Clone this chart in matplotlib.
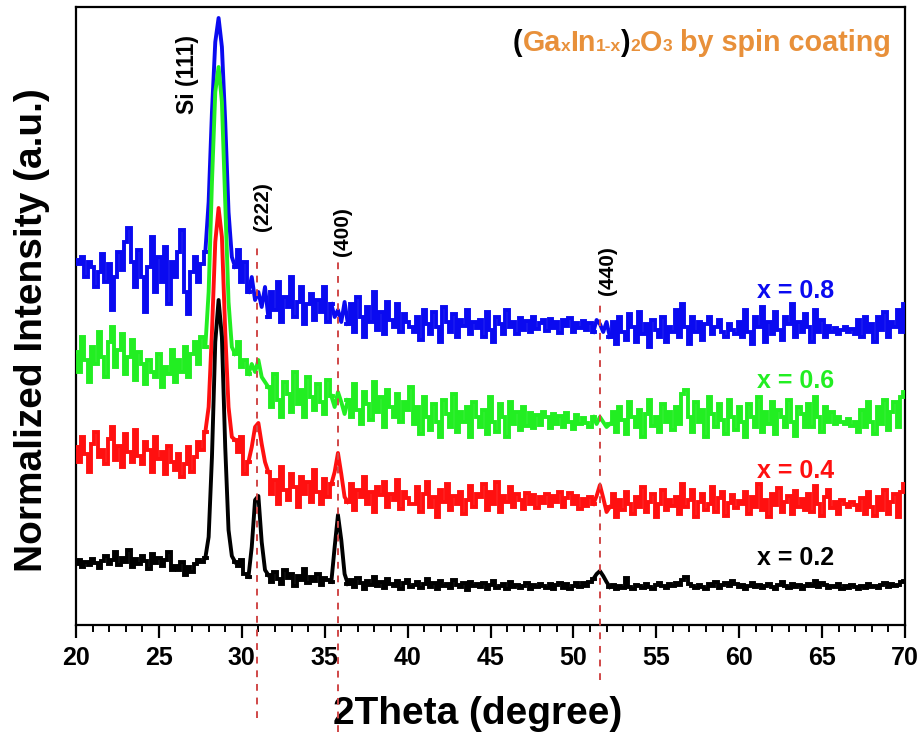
import numpy as np
import matplotlib
matplotlib.use("Agg")
import matplotlib.pyplot as plt
from matplotlib.ticker import MultipleLocator, NullLocator
from matplotlib.offsetbox import TextArea, HPacker, AnchoredOffsetbox

plt.rcParams['font.family'] = ['Liberation Sans', 'DejaVu Sans']

# ---------------- data (2theta grid 20..70, step 0.2) ----------------
two_theta = np.linspace(20, 70, 251)

x02 = [  # black, x = 0.2
    58, 62, 55, 60, 57, 63, 59, 54, 61, 66, 58, 62, 70, 57, 64, 60, 72, 55, 63, 58,
    66, 61, 53, 68, 59, 64, 56, 62, 70, 52, 56, 52, 60, 47, 55, 50, 58, 62, 60, 64,
    85, 165, 280, 322, 285, 175, 92, 66,
    60, 56, 62, 48, 45,
    75, 122, 126, 80, 52,
    47, 40, 50, 43, 38, 52, 44, 48, 36, 46, 42, 53, 39, 45, 41, 48, 37, 44, 42, 40,
    75, 107, 82, 48,
    38, 42, 35, 44, 39, 33, 41, 37, 45, 36, 40, 34, 43, 38, 36, 41, 33, 39, 42, 35,
    37, 40, 34, 38, 43, 35, 39, 33, 41, 36, 38, 34, 42, 37, 35, 39, 32, 40, 36, 38,
    35, 39, 33, 37, 41, 34, 36, 38, 33, 40, 35, 37, 34, 36, 39, 33, 37, 35, 38, 36,
    34, 38, 33, 37, 39, 34, 38, 33, 36, 39, 35, 39,
    36, 40, 43, 48,
    51, 46, 40,
    35, 37, 33, 36, 34, 44, 35, 33, 37, 36, 34, 38, 35, 33, 37, 39, 36, 34, 38, 36,
    39, 37, 42, 45, 38, 36, 34, 37, 35, 33, 38, 36, 40, 34, 37, 39, 36, 41, 38, 35,
    37, 33, 36, 39, 35, 37, 34, 36, 38, 35, 33, 37, 40, 36, 34, 38, 35, 37, 33, 36,
    38, 36, 41, 35, 39, 37, 34, 36, 35, 38, 33, 36, 34, 37, 35, 33, 36, 34, 38, 35,
    36, 34, 37, 39, 35, 38, 36, 37, 40, 41,
]

x04 = [  # red, x = 0.4
    175, 160, 185, 168, 150, 178, 190, 165, 172, 158, 183, 195, 162, 176, 155, 188, 170, 160, 192, 166,
    158, 180, 172, 150, 185, 163, 170, 148, 176, 160, 152, 168, 145, 158, 175, 150, 165, 180, 172, 190,
    215, 290, 380, 414, 385, 290, 215, 185,
    182, 170, 185, 148, 160,
    175, 195, 199, 178, 160,
    150, 128, 142, 118, 155, 132, 122, 148, 135, 115, 145, 128, 140, 120, 152, 130, 118, 143, 125, 138,
    150, 169, 148, 125,
    120, 138, 112, 132, 125, 145, 118, 130, 110, 135, 127, 140, 115, 128, 122, 142, 113, 130, 124, 118,
    118, 135, 110, 128, 140, 115, 125, 105, 132, 120, 138, 112, 126, 118, 130, 108, 122, 136, 115, 128,
    125, 138, 112, 130, 118, 140, 110, 126, 120, 135, 115, 128, 122, 113, 129, 118, 127, 114, 125, 119,
    128, 116, 126, 120, 130, 115, 124, 129, 118, 126, 113, 123,
    116, 125, 118, 126,
    137, 124, 110,
    115, 128, 105, 122, 112, 130, 118, 108, 125, 115, 135, 110, 120, 128, 105, 118, 132, 112, 122, 116,
    125, 108, 138, 115, 122, 132, 105, 120, 128, 112, 118, 135, 110, 124, 130, 106, 119, 127, 114, 121,
    118, 130, 108, 125, 115, 138, 112, 122, 105, 128, 117, 134, 110, 120, 126, 108, 131, 115, 123, 112,
    128, 110, 136, 118, 106, 125, 132, 114, 120, 108, 122, 118, 115, 120, 117, 112, 124, 108, 130, 115,
    106, 125, 112, 132, 108, 120, 128, 105, 130, 138,
]

x06 = [  # green, x = 0.6
    270, 250, 285, 262, 240, 275, 258, 290, 265, 245, 280, 295, 255, 272, 288, 248, 265, 282, 242, 270,
    258, 238, 262, 250, 245, 268, 235, 255, 248, 272, 240, 262, 250, 275, 245, 268, 280, 258, 285, 275,
    330, 440, 530, 555, 520, 420, 320, 275,
    268, 280, 255, 262, 248,
    258, 250, 262, 245, 240,
    235, 215, 248, 222, 205, 240, 228, 210, 250, 218, 232, 205, 245, 225, 212, 238, 220, 208, 242, 226,
    215, 230, 220, 208,
    222, 205, 238, 212, 198, 230, 218, 202, 240, 210, 225, 195, 232, 215, 205, 228, 200, 220, 212, 235,
    198, 215, 188, 225, 205, 192, 218, 200, 185, 222, 208, 195, 228, 190, 210, 200, 215, 185, 220, 205,
    195, 212, 188, 225, 200, 190, 218, 205, 185, 220, 198, 210, 192, 215, 196, 209, 194, 207, 197, 210,
    205, 194, 208, 198, 206, 195, 209, 200, 193, 207, 198, 204,
    199, 195, 205, 198,
    205, 200, 195,
    198, 210, 190, 215, 202, 188, 220, 205, 195, 212, 185, 208, 222, 196, 205, 190, 218, 200, 210, 192,
    215, 198, 228, 232, 205, 190, 220, 200, 212, 185, 225, 208, 195, 218, 202, 188, 222, 205, 192, 215,
    200, 185, 218, 205, 195, 225, 190, 210, 198, 220, 188, 212, 205, 195, 222, 200, 186, 215, 208, 195,
    218, 195, 225, 205, 190, 215, 200, 210, 198, 205, 200, 198, 203, 196, 200, 190, 212, 195, 220, 200,
    188, 215, 198, 222, 192, 210, 220, 195, 225, 230,
]

x08 = [  # blue, x = 0.8
    362, 358, 365, 345, 360, 355, 335, 350, 368, 340, 358, 312, 345, 370, 352, 380, 394, 360, 335, 372,
    345, 310, 355, 385, 330, 365, 340, 375, 318, 360, 345, 370, 392, 330, 308, 350, 365, 340, 358, 370,
    420, 510, 580, 604, 575, 500, 410, 365,
    355, 372, 340, 360, 330,
    345, 322, 330, 315, 335,
    305, 330, 312, 340, 300, 325, 315, 345, 305, 320, 335, 298, 318, 328, 302, 322, 310, 335, 300, 318,
    305, 312, 300, 320,
    298, 318, 290, 325, 305, 285, 315, 300, 330, 292, 310, 288, 320, 302, 295, 318, 290, 308, 300, 295,
    290, 305, 282, 312, 298, 288, 310, 295, 280, 315, 300, 290, 308, 285, 302, 296, 312, 288, 300, 294,
    302, 285, 310, 292, 280, 305, 298, 288, 312, 295, 300, 288, 304, 292, 301, 290, 305, 293, 299, 302,
    291, 303, 294, 300, 289, 302, 296, 304, 290, 299, 294, 301,
    292, 299, 290, 302,
    298, 290, 300,
    285, 300, 278, 305, 290, 282, 308, 295, 280, 310, 288, 298, 275, 302, 292, 285, 305, 280, 295, 290,
    312, 285, 318, 295, 278, 305, 290, 300, 282, 298, 305, 288, 295, 302, 290, 285, 298, 292, 288, 300,
    285, 312, 290, 278, 305, 295, 315, 280, 300, 288, 310, 292, 282, 305, 298, 318, 285, 300, 290, 308,
    295, 280, 312, 290, 302, 285, 296, 290, 294, 288, 292, 295, 290, 293, 288, 302, 285, 305, 290, 298,
    280, 305, 292, 310, 285, 300, 295, 312, 290, 318,
]

series_labels = ["x = 0.8", "x = 0.6", "x = 0.4", "x = 0.2"]
series_colors = ["#0a0af0", "#22ee22", "#ff1010", "#000000"]
label_baselines = [324, 234, 144, 57]

peak_names = ["(222)", "(400)", "(440)"]
peak_positions = [30.9, 35.8, 51.6]

for s in (x02, x04, x06, x08):
    assert len(s) == len(two_theta), len(s)

# index windows drawn as smooth lines (diffraction peaks); the rest is drawn as steps
peak_windows = [(39, 48), (52, 58), (77, 82), (156, 161)]

# ---------------- figure ----------------
W, H = 922, 732
fig = plt.figure(figsize=(W / 100, H / 100), dpi=100)
ax = fig.add_axes([76 / W, 1 - 625 / H, (905 - 76) / W, (625 - 7) / H])

for ys, c in zip([x08, x06, x04, x02], series_colors):
    yarr = np.asarray(ys, dtype=float)
    ysteps = yarr.copy()
    for a, b in peak_windows:
        ysteps[a + 1:b] = np.nan
    ax.plot(two_theta, ysteps, color=c, lw=2.8, drawstyle="steps-mid",
            solid_joinstyle="miter", zorder=3)
    for a, b in peak_windows:
        ax.plot(two_theta[a:b + 1], yarr[a:b + 1], color=c, lw=2.8,
                solid_joinstyle="round", zorder=3)

ax.set_xlim(20, 70)
ax.set_ylim(-3, 615)

# dashed reference lines (extend below the axes)
dash_tops = [377, 362, 320]
dash_bottoms = [-96, -110, -58]
for xp, yt, yb in zip(peak_positions, dash_tops, dash_bottoms):
    ax.plot([xp, xp], [yb, yt], color="#d04848", lw=1.4, ls=(0, (3.5, 3.5)),
            zorder=5, clip_on=False)

# peak labels
ax.text(26.75, 548, "Si (111)", rotation=90, ha="center", va="center",
        fontsize=16.5, fontweight="bold", color="black")
peak_label_xy = [(31.22, 415), (36.1, 390), (52.03, 351)]
for name, (px, py) in zip(peak_names, peak_label_xy):
    ax.text(px, py, name, rotation=90, ha="center", va="center",
            fontsize=15, fontweight="bold", color="black")

# series labels
for lab, c, yb in zip(series_labels, series_colors, label_baselines):
    ax.text(63.4, yb, lab, ha="center", va="baseline", fontsize=18,
            fontweight="bold", color=c)

# title with sub-sized characters
orange = "#e8903a"
big, small = 20.7, 12.5
parts = [("(", big, "black"), ("Ga", big, orange), ("x", small, orange),
         ("In", big, orange), ("1-x", small, orange), (")", big, "black"),
         ("2", small, orange), ("O", big, orange), ("3", small, orange),
         (" by spin coating", big, orange)]
areas = [TextArea(t, textprops=dict(fontsize=s, fontweight="bold", color=c))
         for t, s, c in parts]
box = HPacker(children=areas, align="baseline", pad=0, sep=0)
anch = AnchoredOffsetbox(loc="upper right", child=box, pad=0, borderpad=0,
                         frameon=False, bbox_to_anchor=(891 / W, 1 - 29 / H),
                         bbox_transform=fig.transFigure)
ax.add_artist(anch)

# axes styling
ax.xaxis.set_major_locator(MultipleLocator(5))
ax.xaxis.set_minor_locator(MultipleLocator(1))
ax.yaxis.set_major_locator(NullLocator())
ax.yaxis.set_minor_locator(NullLocator())
ax.tick_params(axis="x", which="major", direction="out", length=9, width=1.6,
               labelsize=18, pad=6)
ax.tick_params(axis="x", which="minor", direction="out", length=5, width=1.4)
for lab in ax.get_xticklabels():
    lab.set_fontweight("bold")
for sp in ax.spines.values():
    sp.set_linewidth(1.6)

ax.set_xlabel("2Theta (degree)", fontsize=28, fontweight="bold")
ax.xaxis.set_label_coords(0.484, -0.115)
ax.set_ylabel("Normalized Intensity (a.u.)", fontsize=28, fontweight="bold")
ax.yaxis.set_label_coords(-0.031, 0.477)

fig.savefig("out.png", dpi=100)
